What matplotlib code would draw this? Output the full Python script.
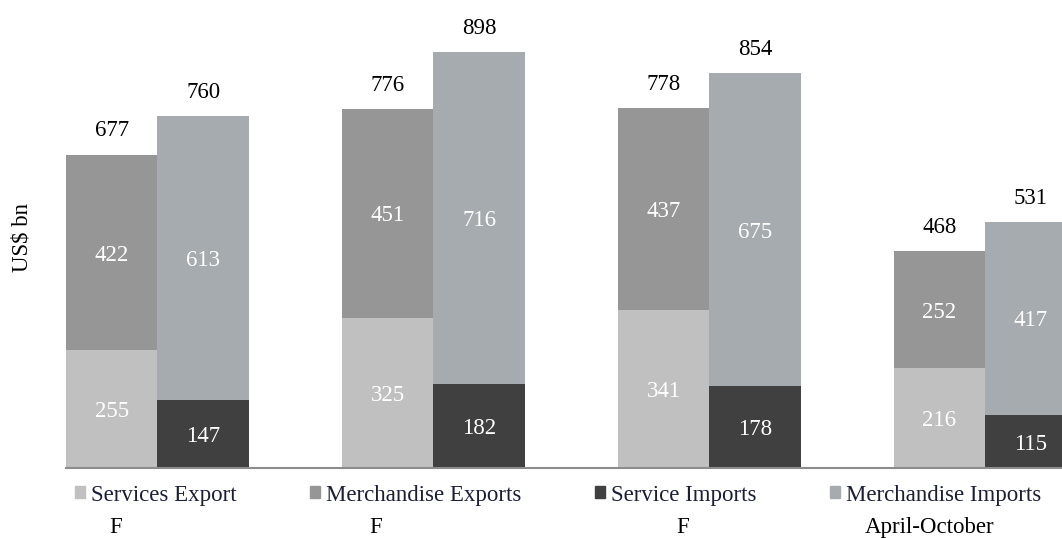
import matplotlib
matplotlib.use('Agg')
import matplotlib.pyplot as plt
from matplotlib.patches import Patch
import numpy as np

# data (US$ bn)
periods = ['F', 'F', 'F', 'April-October']
services_export = [255, 325, 341, 216]
merchandise_exports = [422, 451, 437, 252]
service_imports = [147, 182, 178, 115]
merchandise_imports = [613, 716, 675, 417]
export_totals = [677, 776, 778, 468]
import_totals = [760, 898, 854, 531]
label_pos = [-0.152, 0.79, 1.905, 2.80]

plt.rcParams['font.family'] = ['Liberation Serif', 'DejaVu Serif']
plt.rcParams['font.size'] = 16.5

c_sexp = '#c0c0c0'
c_mexp = '#969696'
c_simp = '#404040'
c_mimp = '#a5abae'

W, H = 1062, 538
fig = plt.figure(figsize=(W / 100, H / 100), dpi=100)
ax = fig.add_axes([66 / W, 70 / H, (W - 66) / W, 468 / H])

x = np.arange(len(periods))
w = 0.3315
sexp = np.array(services_export)
mexp = np.array(merchandise_exports)
simp = np.array(service_imports)
mimp = np.array(merchandise_imports)

b1 = ax.bar(x - w / 2, sexp, w, color=c_sexp)
b2 = ax.bar(x - w / 2, mexp, w, bottom=sexp, color=c_mexp)
b3 = ax.bar(x + w / 2, simp, w, color=c_simp)
b4 = ax.bar(x + w / 2, mimp, w, bottom=simp, color=c_mimp)

# inner labels
for bars, vals, bottoms in [(b1, sexp, 0 * sexp), (b2, mexp, sexp),
                            (b3, simp, 0 * simp), (b4, mimp, simp)]:
    for rect, v, b in zip(bars, vals, bottoms):
        ax.text(rect.get_x() + rect.get_width() / 2, b + v / 2 - 6, f'{v}',
                ha='center', va='center', color='white')

# totals on top
for xi, tot in zip(x - w / 2, export_totals):
    ax.annotate(f'{tot}', xy=(xi, tot), xytext=(0, 17), textcoords='offset points',
                ha='center', va='center', color='black')
for xi, tot, top in zip(x + w / 2, import_totals, simp + mimp):
    ax.annotate(f'{tot}', xy=(xi, top), xytext=(0, 17), textcoords='offset points',
                ha='center', va='center', color='black', annotation_clip=False)

ax.set_xlim(-w, (W - 157) / 276)
ax.set_ylim(0, 468 / 0.463)
for s in ['top', 'right', 'left']:
    ax.spines[s].set_visible(False)
ax.spines['bottom'].set_color('#8c8c8c')
ax.spines['bottom'].set_linewidth(1.5)
ax.set_yticks([])
ax.set_xticks(label_pos)
ax.set_xticklabels(periods)
ax.tick_params(axis='x', length=0, pad=35)

fig.text(22 / W, 1 - 238 / H, 'US$ bn', rotation=90, ha='center', va='center')

handles = [Patch(color=c) for c in [c_sexp, c_mexp, c_simp, c_mimp]]
labels = ['Services Export', 'Merchandise Exports', 'Service Imports', 'Merchandise Imports']
leg = fig.legend(handles, labels, loc='center', bbox_to_anchor=(558 / W, 1 - 495 / H),
                 ncol=4, frameon=False, handlelength=0.45, handleheight=0.45,
                 handletextpad=0.25, columnspacing=3.2, borderpad=0)
for t in leg.get_texts():
    t.set_color('#1a1f36')

plt.savefig('out.png', dpi=100)
plt.close()
